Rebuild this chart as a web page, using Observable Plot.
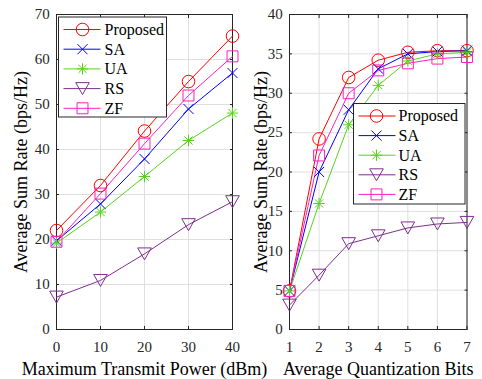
<!DOCTYPE html>
<html>
<head>
<meta charset="utf-8">
<script src="https://cdn.jsdelivr.net/npm/d3@7"></script>
<script src="https://cdn.jsdelivr.net/npm/@observablehq/plot@0.6"></script>
<style>
  html, body { margin: 0; padding: 0; background: #fff; }
  #wrap { position: relative; width: 482px; height: 379px; overflow: hidden; }
  #wrap > svg { position: absolute; top: 0; }
  #wrap svg text { font-family: "Liberation Serif", "Times New Roman", serif !important; }
</style>
</head>
<body>
<div id="wrap"></div>
<script>
// ---------- data ----------
const schemes = ["Proposed", "SA", "UA", "RS", "ZF"];
const colors = ["#ff0000", "#0000ff", "#55d41c", "#7e2f8e", "#ff1fbf"];

// Left panel: x = maximum transmit power (dBm)
const power = [0, 10, 20, 30, 40];
const powerProposed = [22, 32, 44.1, 55.1, 65.2];
const powerSA       = [19.7, 27.9, 37.9, 49, 57];
const powerUA       = [19.2, 26.1, 34, 42, 48.1];
const powerRS       = [7.2, 10.9, 16.8, 23.3, 28.4];
const powerZF       = [19.5, 30.2, 41.3, 52, 60.7];
const powerTicksY   = [0, 10, 20, 30, 40, 50, 60, 70];

// Right panel: x = average quantization bits
const bits = [1, 2, 3, 4, 5, 6, 7];
const bitsProposed = [4.9, 24.2, 32, 34.2, 35.2, 35.4, 35.4];
const bitsSA       = [4.9, 20, 27.9, 33.1, 35, 35.3, 35.4];
const bitsUA       = [4.9, 16, 26, 31, 34.1, 35, 35.2];
const bitsRS       = [3.1, 6.9, 10.9, 11.9, 12.9, 13.4, 13.6];
const bitsZF       = [4.9, 22.1, 30, 32.9, 33.8, 34.4, 34.6];
const bitsTicksY   = [0, 5, 10, 15, 20, 25, 30, 35, 40];

const leftTitleX = "Maximum Transmit Power (dBm)";
const rightTitleX = "Average Quantization Bits";
const titleY = "Average Sum Rate (bps/Hz)";

// ---------- marker symbols (MATLAB-like) ----------
const symCircle = {draw(c, size) { const r = Math.sqrt(size / Math.PI); c.moveTo(r, 0); c.arc(0, 0, r, 0, 2 * Math.PI); }};
const symTimes = {draw(c, size) { const s = Math.sqrt(size / Math.PI) * 0.8; c.moveTo(-s, -s); c.lineTo(s, s); c.moveTo(s, -s); c.lineTo(-s, s); }};
const symStar = {draw(c, size) { const r = Math.sqrt(size / Math.PI); const s = r * 0.9, d = s * 0.72;
  c.moveTo(-s, 0); c.lineTo(s, 0); c.moveTo(0, -s); c.lineTo(0, s);
  c.moveTo(-d, -d); c.lineTo(d, d); c.moveTo(d, -d); c.lineTo(-d, d); }};
const symTriDown = {draw(c, size) { const r = Math.sqrt(size / Math.PI); const w = r * 1.08, h = r * 1.9;
  c.moveTo(-w, -h / 2); c.lineTo(w, -h / 2); c.lineTo(0, h / 2); c.closePath(); }};
const symSquare = {draw(c, size) { const s = Math.sqrt(size / Math.PI) * 0.87; c.rect(-s, -s, 2 * s, 2 * s); }};
const symbols = [symCircle, symTimes, symStar, symTriDown, symSquare];
const R = 6.3;

function rows(xs, series) {
  return schemes.flatMap((s, i) => xs.map((x, j) => ({x, y: series[i][j], scheme: s})));
}
const leftRows = rows(power, [powerProposed, powerSA, powerUA, powerRS, powerZF]);
const rightRows = rows(bits, [bitsProposed, bitsSA, bitsUA, bitsRS, bitsZF]);

const FONT = "Liberation Serif, Times New Roman, serif";
const INK = "#262626";

function legendMark(box) {
  return () => {
    const g = d3.create("svg:g");
    g.append("rect").attr("x", box.x).attr("y", box.y).attr("width", box.w).attr("height", box.h)
      .attr("fill", "#fff").attr("stroke", INK).attr("stroke-width", 1);
    schemes.forEach((s, i) => {
      const y = box.y + box.first + i * box.step;
      g.append("line").attr("x1", box.x + box.l1).attr("x2", box.x + box.l2).attr("y1", y).attr("y2", y)
        .attr("stroke", colors[i]).attr("stroke-width", 1);
      g.append("path").attr("transform", `translate(${box.x + box.mx},${y})`)
        .attr("d", d3.symbol(symbols[i], R * R * Math.PI)()).attr("fill", "none").attr("stroke", colors[i]).attr("stroke-width", 1);
      g.append("text").attr("x", box.x + box.tx).attr("y", y).attr("dy", "0.34em")
        .attr("text-anchor", "start")
        .attr("font-size", 16).attr("fill", "#000").text(s);
    });
    return g.node();
  };
}

function panel({xs, rowsData, yTicks, yDomain, xTitle, width, marginLeft, marginRight, legend, yTitleDx}) {
  return Plot.plot({
    width, height: 379,
    marginLeft, marginRight, marginTop: 14, marginBottom: 50,
    style: {fontFamily: FONT, fontSize: "15px", color: INK, background: "transparent", overflow: "visible"},
    x: {domain: d3.extent(xs)},
    y: {domain: yDomain},
    color: {domain: schemes, range: colors},
    symbol: {domain: schemes, range: symbols},
    marks: [
      Plot.gridX({ticks: xs, stroke: "#dfdfdf", strokeOpacity: 1}),
      Plot.gridY({ticks: yTicks, stroke: "#dfdfdf", strokeOpacity: 1}),
      Plot.axisX({ticks: xs, tickFormat: d3.format("d"), tickSize: -3, tickPadding: 15, label: null, fontSize: 15, stroke: INK}),
      Plot.axisX({anchor: "top", ticks: xs, tickSize: -3, tickFormat: () => "", label: null, stroke: INK}),
      Plot.axisY({ticks: yTicks, tickFormat: d3.format("d"), tickSize: -3, tickPadding: 9.7, label: null, fontSize: 15, stroke: INK}),
      Plot.axisY({anchor: "right", ticks: yTicks, tickSize: -3, tickFormat: () => "", label: null, stroke: INK}),
      Plot.frame({stroke: INK, strokeWidth: 1}),
      Plot.line(rowsData, {x: "x", y: "y", z: "scheme", stroke: "scheme", strokeWidth: 1}),
      Plot.dot(rowsData, {x: "x", y: "y", stroke: "scheme", symbol: "scheme", r: R, fill: "none", strokeWidth: 1}),
      legendMark(legend),
      Plot.text([xTitle], {frameAnchor: "bottom", dy: 40, fontSize: 18, fill: "#000", lineAnchor: "middle", textAnchor: "middle"}),
      Plot.text([titleY], {frameAnchor: "left", rotate: -90, dx: yTitleDx, fontSize: 18, fill: "#000", lineAnchor: "middle", textAnchor: "middle"})
    ]
  });
}

const wrap = document.getElementById("wrap");
const left = panel({
  xs: power, rowsData: leftRows, yTicks: powerTicksY, yDomain: [0, 70], xTitle: leftTitleX,
  width: 240, marginLeft: 56, marginRight: 8, yTitleDx: -35,
  legend: {x: 58.5, y: 17, w: 108, h: 100, first: 12.5, step: 19.7, l1: 5, l2: 42, mx: 24, tx: 46}
});
left.style.left = "0px";
wrap.appendChild(left);

const right = panel({
  xs: bits, rowsData: rightRows, yTicks: bitsTicksY, yDomain: [0, 40], xTitle: rightTitleX,
  width: 242, marginLeft: 49, marginRight: 15.5, yTitleDx: -28,
  legend: {x: 113.5, y: 103.5, w: 111.5, h: 100.5, first: 12.5, step: 19.6, l1: 5, l2: 42, mx: 23, tx: 45}
});
right.style.left = "240px";
wrap.appendChild(right);
</script>
</body>
</html>
